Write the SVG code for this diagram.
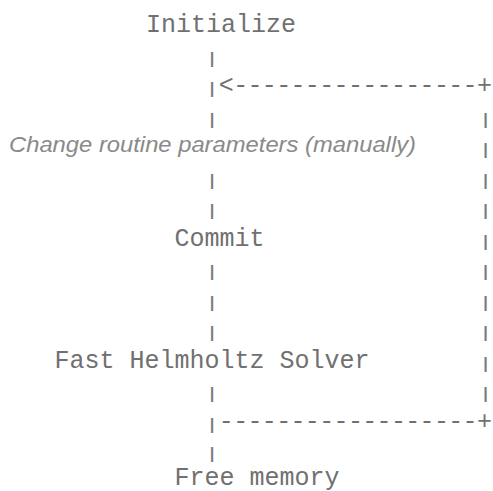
<svg xmlns="http://www.w3.org/2000/svg" width="493" height="491" viewBox="0 0 493 491">
  <style>
    .mono { font-family: "Courier New", "Liberation Mono", monospace; font-size: 25px; fill: #707070; }
    .note { font-family: "Liberation Sans", Arial, sans-serif; font-size: 22px; font-style: italic; fill: #8a8a8a; }
    .bar { font-family: "Courier New", "Liberation Mono", monospace; font-size: 16px; font-weight: bold; fill: #7a7a7a; text-anchor: middle; }
    .dash { letter-spacing: -0.66px; }
  </style>
  <rect width="493" height="491" fill="#ffffff"/>

  <!-- flow steps -->
  <g id="node-initialize">
    <text class="mono" x="146" y="32">Initialize</text>
  </g>
  <g id="node-change-parameters">
    <text class="note" x="9" y="152" textLength="407" lengthAdjust="spacingAndGlyphs">Change routine parameters (manually)</text>
  </g>
  <g id="node-commit">
    <text class="mono" x="174.5" y="245.5">Commit</text>
  </g>
  <g id="node-solver">
    <text class="mono" x="54.5" y="367.5">Fast Helmholtz Solver</text>
  </g>
  <g id="node-free-memory">
    <text class="mono" x="174.5" y="485">Free memory</text>
  </g>

  <!-- ASCII connectors: main column, loop-back line and return column -->
  <g id="connectors">
    <text class="bar" x="212" y="63.5">|</text>
    <text class="bar" x="212" y="94">|</text>
    <text class="mono dash" x="218.8" y="93">&lt;-----------------+</text>
    <text class="bar" x="212" y="124.5">|</text>
    <text class="bar" x="212" y="185.5">|</text>
    <text class="bar" x="212" y="216">|</text>
    <text class="bar" x="212" y="277">|</text>
    <text class="bar" x="212" y="307.5">|</text>
    <text class="bar" x="212" y="338">|</text>
    <text class="bar" x="212" y="399">|</text>
    <text class="bar" x="212" y="429.5">|</text>
    <text class="mono dash" x="218.8" y="428.5">------------------+</text>
    <text class="bar" x="212" y="459">|</text>

    <text class="bar" x="485.5" y="124.5">|</text>
    <text class="bar" x="485.5" y="155">|</text>
    <text class="bar" x="485.5" y="185.5">|</text>
    <text class="bar" x="485.5" y="216">|</text>
    <text class="bar" x="485.5" y="246.5">|</text>
    <text class="bar" x="485.5" y="277">|</text>
    <text class="bar" x="485.5" y="307.5">|</text>
    <text class="bar" x="485.5" y="338">|</text>
    <text class="bar" x="485.5" y="368.5">|</text>
    <text class="bar" x="485.5" y="399">|</text>
  </g>
</svg>
